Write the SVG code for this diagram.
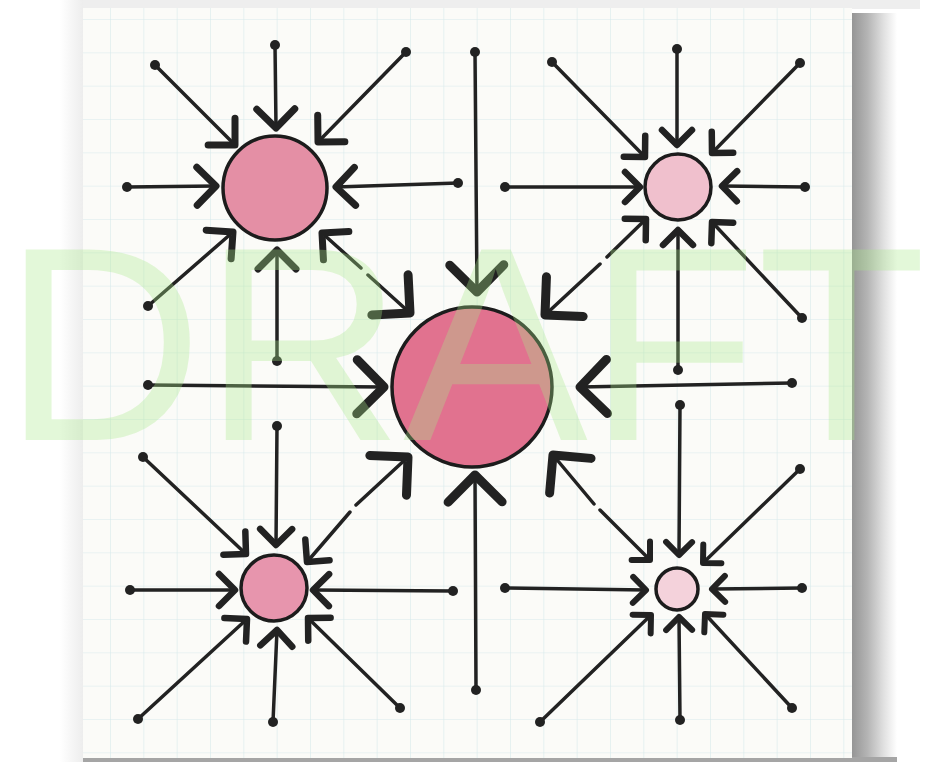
<svg xmlns="http://www.w3.org/2000/svg" width="929" height="762" viewBox="0 0 929 762">
<style>
.ln{fill:none;stroke:#222;stroke-width:3.5;stroke-linecap:round}
.dot{fill:#222}
.ring{stroke:#1c1c1c;stroke-width:3.5}
.grid{stroke:#d8eaeb;stroke-width:1.2;fill:none}
.c0 path{marker-end:url(#m0)}
.c1 path{marker-end:url(#m1)}
.c2 path{marker-end:url(#m2)}
.c3 path{marker-end:url(#m3)}
.c4 path{marker-end:url(#m4)}
.wm{font-family:"Liberation Sans",Arial,sans-serif;font-size:277px;fill:#a8e888;fill-opacity:0.32}
</style>
<defs>
<linearGradient id="shR" x1="0" y1="0" x2="1" y2="0">
<stop offset="0" stop-color="#959595"/>
<stop offset="0.35" stop-color="#b5b5b5"/>
<stop offset="0.7" stop-color="#e0e0e0"/>
<stop offset="1" stop-color="#ffffff"/>
</linearGradient>
<linearGradient id="shL" x1="0" y1="0" x2="1" y2="0">
<stop offset="0" stop-color="#ffffff"/>
<stop offset="1" stop-color="#ededed"/>
</linearGradient>
<marker id="m0" viewBox="-40 -40 60 80" markerWidth="60" markerHeight="80" refX="0" refY="0" orient="auto-start-reverse" markerUnits="userSpaceOnUse">
<path d="M-27,-27 L0,0 L-27,27" fill="none" stroke="#222" stroke-width="9" stroke-linecap="round" stroke-linejoin="round"/>
</marker>
<marker id="m1" viewBox="-30 -30 40 60" markerWidth="40" markerHeight="60" refX="0" refY="0" orient="auto-start-reverse" markerUnits="userSpaceOnUse">
<path d="M-19,-19 L0,0 L-19,19" fill="none" stroke="#222" stroke-width="7" stroke-linecap="round" stroke-linejoin="round"/>
</marker>
<marker id="m2" viewBox="-30 -30 40 60" markerWidth="40" markerHeight="60" refX="0" refY="0" orient="auto-start-reverse" markerUnits="userSpaceOnUse">
<path d="M-15,-15 L0,0 L-15,15" fill="none" stroke="#222" stroke-width="6.5" stroke-linecap="round" stroke-linejoin="round"/>
</marker>
<marker id="m3" viewBox="-30 -30 40 60" markerWidth="40" markerHeight="60" refX="0" refY="0" orient="auto-start-reverse" markerUnits="userSpaceOnUse">
<path d="M-16,-16 L0,0 L-16,16" fill="none" stroke="#222" stroke-width="6.5" stroke-linecap="round" stroke-linejoin="round"/>
</marker>
<marker id="m4" viewBox="-30 -30 40 60" markerWidth="40" markerHeight="60" refX="0" refY="0" orient="auto-start-reverse" markerUnits="userSpaceOnUse">
<path d="M-13,-13 L0,0 L-13,13" fill="none" stroke="#222" stroke-width="6" stroke-linecap="round" stroke-linejoin="round"/>
</marker>
<pattern id="gp" x="110" y="19" width="33.333" height="33.333" patternUnits="userSpaceOnUse">
<path d="M0,0 V33.333 M0,0 H33.333" class="grid"/>
</pattern>
</defs>

<!-- background, shadow, paper -->
<rect x="0" y="0" width="929" height="762" fill="#ffffff"/>
<rect x="60" y="0" width="860" height="9" fill="#eeeeee"/>
<rect x="60" y="0" width="23" height="762" fill="url(#shL)"/>
<rect x="852" y="13" width="45" height="749" fill="url(#shR)"/>
<rect x="83" y="757" width="814" height="5" fill="#a5a5a5"/>
<rect x="83" y="8" width="769" height="750" fill="#fbfbf8"/>
<rect x="83" y="8" width="769" height="750" fill="url(#gp)"/>

<!-- nodes -->
<g id="node-center"><circle cx="472" cy="387" r="80" fill="#e1728f" class="ring" stroke-width="4.5"/></g>
<g id="node-top-left"><circle cx="275" cy="188" r="52" fill="#e48fa5" class="ring"/></g>
<g id="node-top-right"><circle cx="678" cy="187" r="33" fill="#f0c0cd" class="ring"/></g>
<g id="node-bottom-left"><circle cx="274" cy="588" r="33" fill="#e795ad" class="ring"/></g>
<g id="node-bottom-right"><circle cx="677" cy="589" r="21" fill="#f4d2db" class="ring"/></g>

<!-- connectors -->
<g id="connectors">
<g class="ln c0">
<path d="M475,52 L477,292"/>
<path d="M148,385 L384,387"/>
<path d="M792,383 L580,387"/>
<path d="M476,690 L475,475"/>
</g>
<g class="ln">
<path d="M322,233 L361,268 M368,275 L410,313" marker-start="url(#m1)" marker-end="url(#m0)"/>
<path d="M646,219 L607,257 M600,264 L545,315" marker-start="url(#m2)" marker-end="url(#m0)"/>
<path d="M307,562 L350,512 M356,505 L408,457" marker-start="url(#m3)" marker-end="url(#m0)"/>
<path d="M650,560 L600,510 M594,504 L553,455" marker-start="url(#m4)" marker-end="url(#m0)"/>
</g>
<g class="ln c1">
<path d="M155,65 L235,145"/>
<path d="M275,45 L276,128"/>
<path d="M406,52 L318,142"/>
<path d="M127,187 L216,186"/>
<path d="M458,183 L336,187"/>
<path d="M148,306 L233,232"/>
<path d="M277,361 L277,250"/>
</g>
<g class="ln c2">
<path d="M552,62 L645,157"/>
<path d="M677,49 L677,145"/>
<path d="M800,63 L712,153"/>
<path d="M505,187 L640,187"/>
<path d="M805,187 L722,186"/>
<path d="M678,370 L678,230"/>
<path d="M802,318 L712,222"/>
</g>
<g class="ln c3">
<path d="M277,426 L276,545"/>
<path d="M143,457 L246,554"/>
<path d="M130,590 L235,590"/>
<path d="M453,591 L313,590"/>
<path d="M138,719 L247,619"/>
<path d="M273,722 L277,630"/>
<path d="M400,708 L308,618"/>
</g>
<g class="ln c4">
<path d="M680,405 L679,555"/>
<path d="M800,469 L703,563"/>
<path d="M802,588 L712,589"/>
<path d="M505,588 L646,590"/>
<path d="M540,722 L651,615"/>
<path d="M680,720 L679,617"/>
<path d="M792,708 L705,614"/>
</g>
<g class="dot">
<circle cx="475" cy="52" r="5"/><circle cx="148" cy="385" r="5"/><circle cx="792" cy="383" r="5"/><circle cx="476" cy="690" r="5"/>
<circle cx="155" cy="65" r="5"/><circle cx="275" cy="45" r="5"/><circle cx="406" cy="52" r="5"/><circle cx="127" cy="187" r="5"/><circle cx="458" cy="183" r="5"/><circle cx="148" cy="306" r="5"/><circle cx="277" cy="361" r="5"/>
<circle cx="552" cy="62" r="5"/><circle cx="677" cy="49" r="5"/><circle cx="800" cy="63" r="5"/><circle cx="505" cy="187" r="5"/><circle cx="805" cy="187" r="5"/><circle cx="678" cy="370" r="5"/><circle cx="802" cy="318" r="5"/>
<circle cx="277" cy="426" r="5"/><circle cx="143" cy="457" r="5"/><circle cx="130" cy="590" r="5"/><circle cx="453" cy="591" r="5"/><circle cx="138" cy="719" r="5"/><circle cx="273" cy="722" r="5"/><circle cx="400" cy="708" r="5"/>
<circle cx="680" cy="405" r="5"/><circle cx="800" cy="469" r="5"/><circle cx="802" cy="588" r="5"/><circle cx="505" cy="588" r="5"/><circle cx="540" cy="722" r="5"/><circle cx="680" cy="720" r="5"/><circle cx="792" cy="708" r="5"/>
</g>
</g>

<!-- watermark -->
<text class="wm" x="3" y="440">DRAFT</text>
</svg>
